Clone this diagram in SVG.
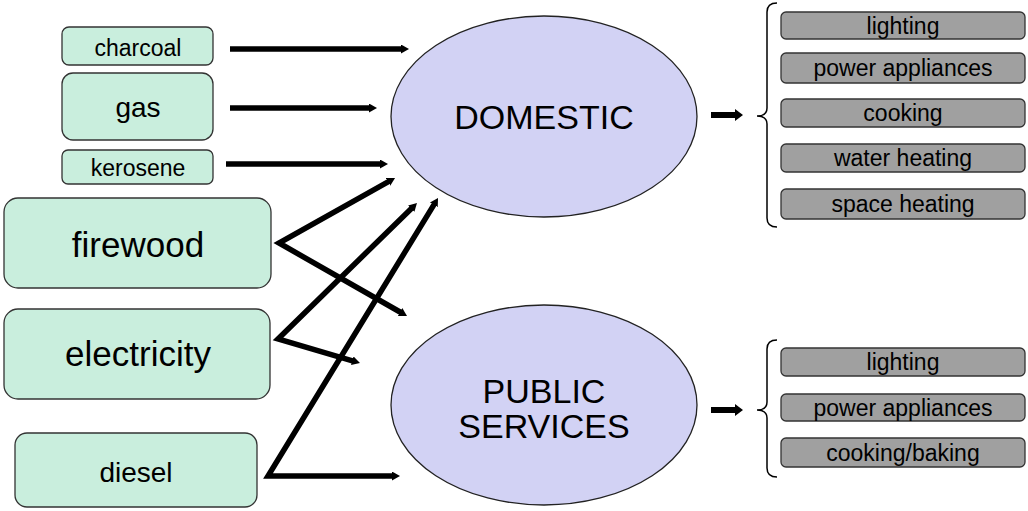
<svg xmlns="http://www.w3.org/2000/svg" width="1028" height="511" viewBox="0 0 1028 511">
<style>
.src{fill:#c9eedd;stroke:#333;stroke-width:1.3}
.hub{fill:#d2d2f4;stroke:#222;stroke-width:1.3}
.use{fill:#a0a0a0;stroke:#333;stroke-width:1.3}
text{font-family:"Liberation Sans",Arial,sans-serif;fill:#000;text-anchor:middle}
.conn{fill:none;stroke:#000;stroke-width:5.5;stroke-linejoin:miter;stroke-miterlimit:20}
.brace{fill:none;stroke:#000;stroke-width:1.5}
</style>
<defs>
<marker id="ah" viewBox="0 0 8 9" markerWidth="8" markerHeight="9" markerUnits="userSpaceOnUse" refX="2" refY="4.5" orient="auto-start-reverse">
<path d="M0,0 L8,4.5 L0,9 Z" fill="#000"/>
</marker>
</defs>
<g id="charcoal"><rect class="src" x="62" y="27" width="151" height="38" rx="7"/><text x="138" y="56" font-size="23">charcoal</text></g>
<g id="gas"><rect class="src" x="62" y="73" width="151" height="67" rx="11"/><text x="138" y="117" font-size="28">gas</text></g>
<g id="kerosene"><rect class="src" x="62" y="150" width="151" height="34" rx="6"/><text x="138" y="176" font-size="23">kerosene</text></g>
<g id="firewood"><rect class="src" x="4" y="198" width="267" height="90" rx="14"/><text x="138" y="257" font-size="35">firewood</text></g>
<g id="electricity"><rect class="src" x="4" y="309" width="266" height="90" rx="14"/><text x="138" y="366" font-size="35">electricity</text></g>
<g id="diesel"><rect class="src" x="15" y="433" width="242" height="74" rx="12"/><text x="136" y="482" font-size="28">diesel</text></g>
<g id="domestic"><ellipse class="hub" cx="544" cy="116.5" rx="153" ry="100.5"/><text x="544" y="129" font-size="34">DOMESTIC</text></g>
<g id="public-services"><ellipse class="hub" cx="544" cy="405" rx="153" ry="100"/><text x="544" y="403" font-size="34">PUBLIC</text><text x="544" y="438" font-size="34">SERVICES</text></g>
<g id="domestic-uses">
<path class="brace" d="M777,3 Q767,3 767,12 L767,108 Q767,116 757,116 Q767,116 767,124 L767,218 Q767,227 777,227"/>
<g id="d-lighting"><rect class="use" x="781" y="12" width="244" height="27" rx="5"/><text x="903" y="33.5" font-size="23">lighting</text></g>
<g id="d-power"><rect class="use" x="781" y="53" width="244" height="30" rx="5"/><text x="903" y="76" font-size="23">power appliances</text></g>
<g id="d-cooking"><rect class="use" x="781" y="99" width="244" height="28" rx="5"/><text x="903" y="121" font-size="23">cooking</text></g>
<g id="d-water"><rect class="use" x="781" y="144" width="244" height="28" rx="5"/><text x="903" y="166" font-size="23">water heating</text></g>
<g id="d-space"><rect class="use" x="781" y="189" width="244" height="30" rx="5"/><text x="903" y="212" font-size="23">space heating</text></g>
</g>
<g id="public-uses">
<path class="brace" d="M777,340 Q767,340 767,349 L767,402 Q767,410 757,410 Q767,410 767,418 L767,468 Q767,477 777,477"/>
<g id="p-lighting"><rect class="use" x="781" y="348" width="244" height="28" rx="5"/><text x="903" y="370" font-size="23">lighting</text></g>
<g id="p-power"><rect class="use" x="781" y="394" width="244" height="27" rx="5"/><text x="903" y="415.5" font-size="23">power appliances</text></g>
<g id="p-cooking"><rect class="use" x="781" y="438" width="244" height="29" rx="5"/><text x="903" y="460.5" font-size="23">cooking/baking</text></g>
</g>
<g id="connectors">
<path class="conn" d="M230,49 L403,49" marker-end="url(#ah)"/>
<path class="conn" d="M230,108 L371,108" marker-end="url(#ah)"/>
<path class="conn" d="M226,164 L382,164" marker-end="url(#ah)"/>
<path class="conn" d="M389.8,180.9 L279,243 L401.8,313" marker-start="url(#ah)" marker-end="url(#ah)"/>
<path class="conn" d="M412.7,207.2 L278,339 L354.2,361.3" marker-start="url(#ah)" marker-end="url(#ah)"/>
<path class="conn" d="M434.9,203.1 L268,476 L394,476" marker-start="url(#ah)" marker-end="url(#ah)"/>
<path d="M711,112 L735,112 L735,109 L743,115 L735,121 L735,118 L711,118 Z" fill="#000"/>
<path d="M711,407 L735,407 L735,404 L743,410 L735,416 L735,413 L711,413 Z" fill="#000"/>
</g>
</svg>
